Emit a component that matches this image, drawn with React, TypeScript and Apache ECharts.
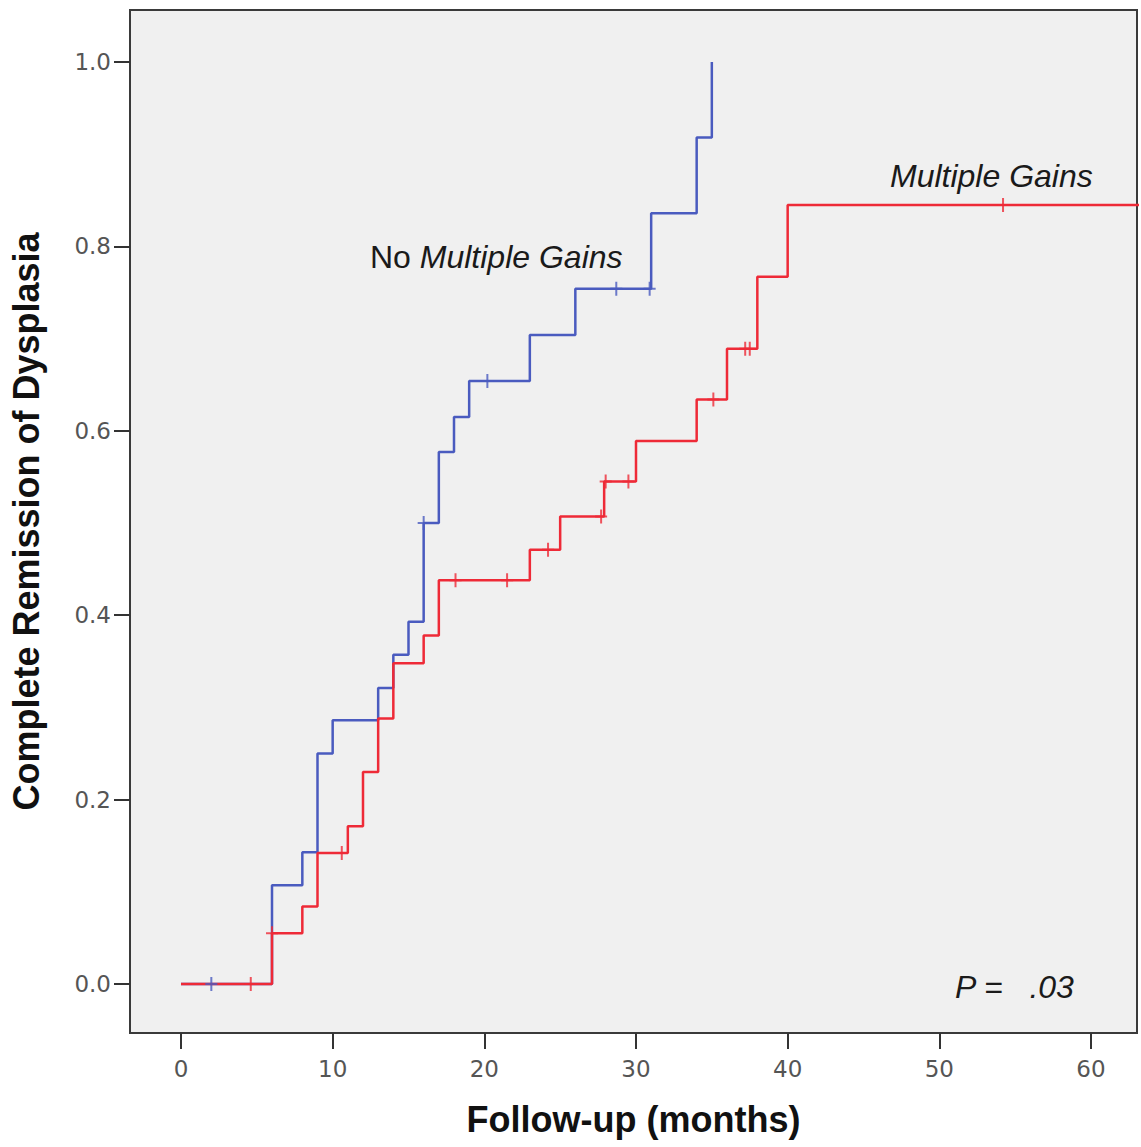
import React, { useEffect, useRef } from "react";
import * as echarts from "echarts";

// ---- data ----
const xTickValues = [0, 10, 20, 30, 40, 50, 60];
const yTickValues = [0, 0.2, 0.4, 0.6, 0.8, 1.0];

// "No Multiple Gains" (blue): event times and cumulative remission
const noGainsTimes = [0, 6, 8, 9, 10, 13, 14, 15, 16, 17, 18, 19, 23, 26, 31, 34, 35];
const noGainsValues = [0, 0.107, 0.143, 0.25, 0.286, 0.321, 0.357, 0.393, 0.5, 0.577, 0.615, 0.654, 0.704, 0.754, 0.836, 0.918, 1.0];
const noGainsCensored = [2.0, 16.0, 20.2, 28.7, 30.9];

// "Multiple Gains" (red)
const gainsTimes = [0, 6, 8, 9, 11, 12, 13, 14, 16, 17, 23, 25, 27.9, 30, 34, 36, 38, 40, 64];
const gainsValues = [0, 0.055, 0.084, 0.142, 0.171, 0.23, 0.288, 0.348, 0.378, 0.438, 0.471, 0.507, 0.545, 0.589, 0.634, 0.689, 0.767, 0.845, 0.845];
const gainsCensored = [4.6, 6.0, 10.6, 18.1, 21.5, 24.2, 27.7, 28.0, 29.5, 35.1, 37.2, 37.5, 54.2];

const BLUE = "#4a5bbf";
const RED = "#ee2a37";
const PLUS = "path://M5,0h2v6h5v2h-5v6h-2v-6h-5v-2h5z";
const SANS = "'Liberation Sans', Arial, Helvetica, sans-serif";

function stepValueAt(times: number[], values: number[], t: number) {
  let v = values[0];
  for (let i = 0; i < times.length; i++) {
    if (times[i] <= t) v = values[i];
  }
  return v;
}

export default function App() {
  const ref = useRef<HTMLDivElement>(null);
  useEffect(() => {
    if (!ref.current) return;
    const chart = echarts.init(ref.current, null, { renderer: "svg" });
    const option: any = {
      animation: false,
      backgroundColor: "#ffffff",
      grid: {
        left: 130,
        top: 10,
        width: 1007,
        height: 1023,
        show: true,
        backgroundColor: "#f0f0f0",
        borderColor: "#3a3a3a",
        borderWidth: 2,
      },
      xAxis: {
        type: "value",
        min: -3.3626,
        max: 63.033,
        name: "Follow-up (months)",
        nameLocation: "middle",
        nameGap: 68,
        nameTextStyle: { fontFamily: SANS, fontWeight: "bold", fontSize: 36, color: "#111" },
        axisLine: { show: false, onZero: false },
        splitLine: { show: false },
        axisTick: {
          show: true,
          length: 16,
          lineStyle: { color: "#333", width: 2 },
          customValues: xTickValues,
        },
        axisLabel: {
          customValues: xTickValues,
          fontFamily: "'DejaVu Sans', sans-serif",
          fontSize: 23,
          color: "#555",
          margin: 24,
          formatter: (v: number) => String(v),
        },
      },
      yAxis: {
        type: "value",
        min: -0.05315,
        max: 1.0564,
        name: "Complete Remission of Dysplasia",
        nameLocation: "middle",
        nameGap: 86,
        nameTextStyle: { fontFamily: SANS, fontWeight: "bold", fontSize: 36, color: "#111" },
        axisLine: { show: false, onZero: false },
        splitLine: { show: false },
        axisTick: {
          show: true,
          length: 16,
          lineStyle: { color: "#333", width: 2 },
          customValues: yTickValues,
        },
        axisLabel: {
          customValues: yTickValues,
          fontFamily: "'DejaVu Sans', sans-serif",
          fontSize: 23,
          color: "#555",
          margin: 19,
          formatter: (v: number) => v.toFixed(1),
        },
      },
      series: [
        {
          type: "line",
          step: "end",
          data: noGainsTimes.map((t, i) => [t, noGainsValues[i]]),
          showSymbol: false,
          lineStyle: { color: BLUE, width: 2.5 },
          itemStyle: { color: BLUE },
          clip: true,
          z: 2,
        },
        {
          type: "line",
          step: "end",
          data: gainsTimes.map((t, i) => [t, gainsValues[i]]),
          showSymbol: false,
          lineStyle: { color: RED, width: 2.5 },
          itemStyle: { color: RED },
          clip: true,
          z: 3,
        },
        {
          type: "scatter",
          data: noGainsCensored.map((t) => [t, stepValueAt(noGainsTimes, noGainsValues, t)]),
          symbol: PLUS,
          symbolSize: [12, 14],
          itemStyle: { color: BLUE },
          z: 4,
        },
        {
          type: "scatter",
          data: gainsCensored.map((t) => [t, stepValueAt(gainsTimes, gainsValues, t)]),
          symbol: PLUS,
          symbolSize: [12, 14],
          itemStyle: { color: RED },
          z: 5,
        },
      ],
      graphic: [
        {
          type: "text",
          x: 370,
          y: 257,
          z: 10,
          style: {
            text: "{n|No }{i|Multiple Gains}",
            verticalAlign: "middle",
            rich: {
              n: { fontFamily: SANS, fontSize: 32, fill: "#1a1a1a" },
              i: { fontFamily: SANS, fontSize: 32, fontStyle: "italic", fill: "#1a1a1a" },
            },
          },
        },
        {
          type: "text",
          x: 890,
          y: 176,
          z: 10,
          style: {
            text: "Multiple Gains",
            font: `italic 32px ${SANS}`,
            fill: "#1a1a1a",
            verticalAlign: "middle",
          },
        },
        {
          type: "text",
          x: 955,
          y: 987,
          z: 10,
          style: {
            text: "P =   .03",
            font: `italic 32px ${SANS}`,
            fill: "#1a1a1a",
            verticalAlign: "middle",
          },
        },
      ],
    };
    chart.setOption(option);
    return () => chart.dispose();
  }, []);
  return (
    <div
      ref={ref}
      style={{ position: "fixed", left: 0, top: 0, width: 1141, height: 1147 }}
    />
  );
}
